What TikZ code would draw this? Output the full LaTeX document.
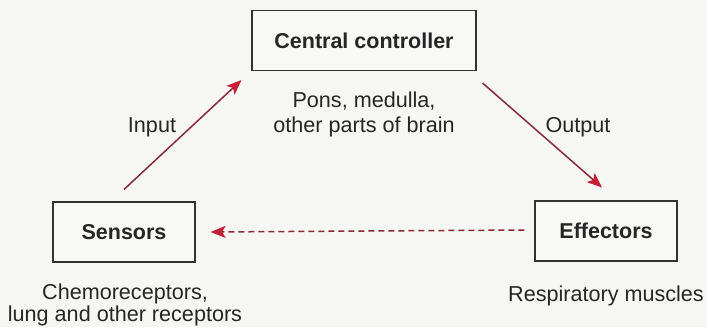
\documentclass[tikz,border=0pt]{standalone}
\usepackage{fontspec}
\setmainfont{Liberation Sans}
\usetikzlibrary{arrows.meta}
\definecolor{bg}{RGB}{246,246,243}
\definecolor{boxfill}{RGB}{248,248,246}
\definecolor{edge}{RGB}{50,50,50}
\definecolor{arrline}{RGB}{135,42,58}
\definecolor{arrtip}{RGB}{196,30,55}
\definecolor{txt}{RGB}{38,38,38}
\tikzset{
  boxnode/.style={draw=edge, line width=1.1pt, fill=boxfill, minimum height=60pt, text=txt,
    font=\fontsize{21.5}{24}\selectfont\bfseries, inner sep=0pt},
  lbl/.style={text=txt, font=\fontsize{21.6}{25}\selectfont, inner sep=0pt, align=center},
  conn/.style={draw=arrline, line width=1.5pt,
    -{Stealth[length=15pt,width=12pt,inset=3.5pt,color=arrtip]}},
}
\begin{document}
\begin{tikzpicture}[x=1pt,y=-1pt]
\fill[bg] (0,0) rectangle (707,327);
\useasboundingbox (0,0) rectangle (707,327);
\node[boxnode, minimum width=224pt] (ctrl) at (364,40.5) {Central controller};
\node[boxnode, minimum width=142pt] (sens) at (124,232) {Sensors};
\node[boxnode, minimum width=142pt] (eff) at (606,231) {Effectors};
\node[lbl] (ctrlsub) at (364,114) {Pons, medulla,\\other parts of brain};
\node[lbl, font=\fontsize{21.6}{22}\selectfont] (senssub) at (125,305) {Chemoreceptors,\\lung and other receptors};
\node[lbl] (effsub) at (606,296) {Respiratory muscles};
\node[lbl] (inlbl) at (152,127) {Input};
\node[lbl] (outlbl) at (578,127) {Output};
\draw[conn] ([yshift=12pt]sens.north) -- ([xshift=-10pt,yshift=-9pt]ctrl.south west);
\draw[conn] ([xshift=6pt,yshift=-12pt]ctrl.south east) -- ([xshift=-4pt,yshift=13pt]eff.north);
\draw[conn, dash pattern=on 6pt off 4pt] ([xshift=-10pt,yshift=1pt]eff.west) -- ([xshift=15pt]sens.east);
\end{tikzpicture}
\end{document}
